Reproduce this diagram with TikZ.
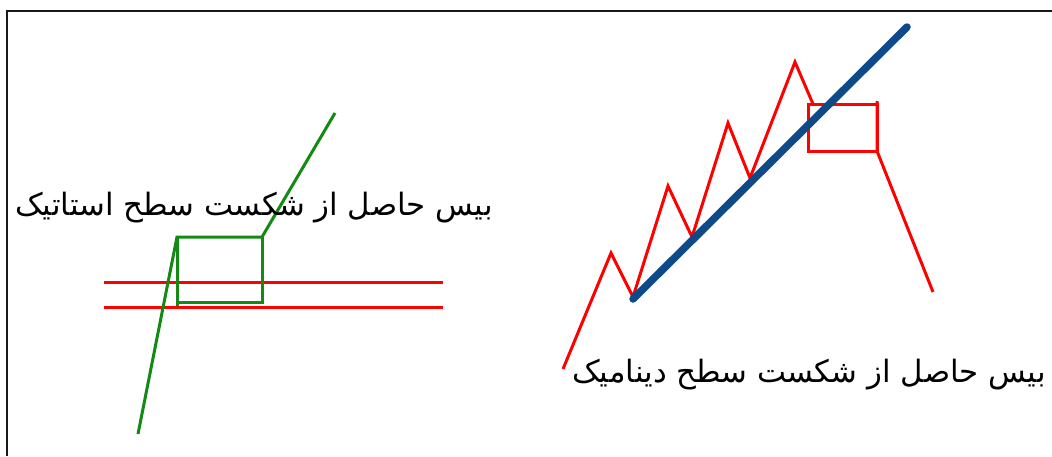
\documentclass[tikz,border=0pt]{standalone}
\usepackage{fontspec}
\TeXXeTstate=1
\newfontfamily\arabicfont[Script=Arabic]{DejaVu Sans}
\definecolor{chartred}{HTML}{FF0000}
\definecolor{chartgreen}{HTML}{138A13}
\definecolor{chartblue}{HTML}{0E4A8A}
\begin{document}
\begin{tikzpicture}[x=1pt,y=-1pt,
  frame/.style={draw=black!90,line width=2.8pt},
  redline/.style={draw=chartred,line width=3pt,line join=miter},
  greenline/.style={draw=chartgreen,line width=3pt},
  trendline/.style={draw=chartblue,line width=7.5pt,line cap=round},
  label/.style={font=\arabicfont\fontsize{30.8}{36}\selectfont,inner sep=0pt,anchor=center}]
\useasboundingbox (0,0) rectangle (1052,456);
\fill[white] (0,0) rectangle (1052,456);
% frame (top and left only visible)
\draw[frame] (1052,11) -- (7,11) -- (7,456);
% left: static level
\coordinate (gA) at (138,434);
\coordinate (gB) at (177,237);
\coordinate (gC) at (262,237);
\coordinate (gD) at (335,113);
\coordinate (gE) at (262,302);
\coordinate (gF) at (177,302);
\coordinate (gG) at (177,306);
\draw[redline] (104,282) -- (443,282);
\draw[redline] (104,307) -- (443,307);
\draw[greenline] (gA) -- (gB) -- (gC) -- (gD);
\draw[greenline] (gC) -- (gE) -- (gF);
\draw[greenline] (gB) -- (gG);
\node[label] (t1) at (254,208) {\beginR بیس حاصل از شکست سطح استاتیک\endR};
% right: dynamic level
\coordinate (r0) at (563,369);
\coordinate (r1) at (611,253);
\coordinate (r2) at (633,297);
\coordinate (r3) at (668,186);
\coordinate (r4) at (692,237);
\coordinate (r5) at (728,123);
\coordinate (r6) at (750,178);
\coordinate (r7) at (795,62);
\coordinate (r8) at (813,104);
\coordinate (b1) at (808,104);
\coordinate (b2) at (877,104);
\coordinate (b3) at (877,151);
\coordinate (b4) at (808,151);
\coordinate (b5) at (877,101);
\coordinate (r9) at (933,292);
\draw[redline] (r0) -- (r1) -- (r2) -- (r3) -- (r4) -- (r5) -- (r6) -- (r7) -- (r8);
\draw[redline] (b1) -- (b2) -- (b3) -- (b4) -- cycle;
\draw[redline] (b5) -- (b3) -- (r9);
\coordinate (s1) at (633,299);
\coordinate (s2) at (907,27);
\draw[trendline] (s1) -- (s2);
\node[label] (t2) at (809,375) {\beginR بیس حاصل از شکست سطح دینامیک\endR};
\end{tikzpicture}
\end{document}
